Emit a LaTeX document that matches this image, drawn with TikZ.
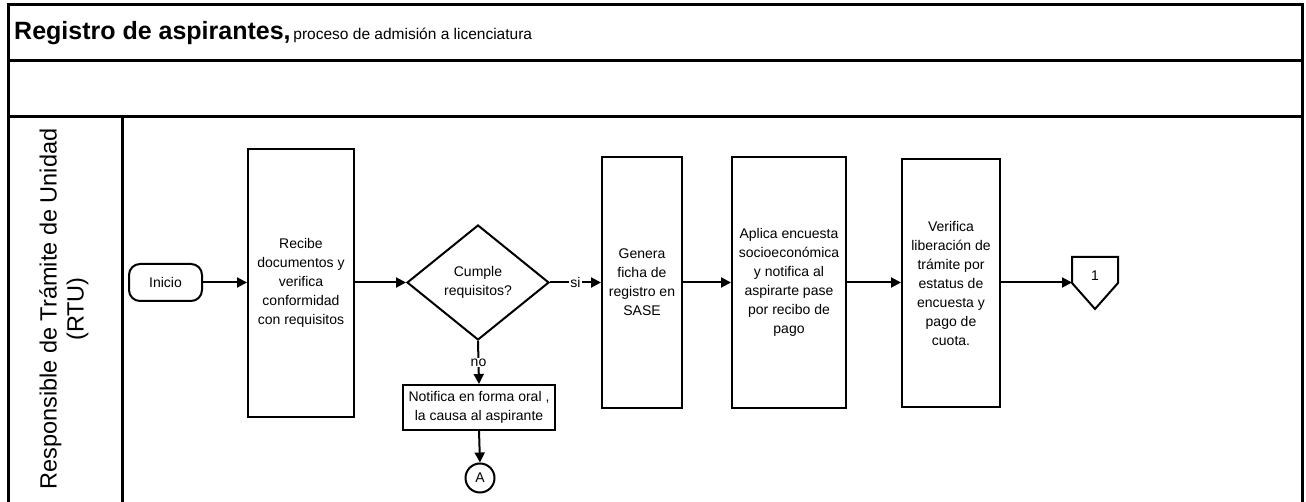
\documentclass[tikz,border=0pt]{standalone}
\usepackage{fontspec}
\setmainfont{Liberation Sans}
\usetikzlibrary{arrows.meta,shapes.geometric}
\begin{document}
\begin{tikzpicture}[x=1pt,y=-1pt,
  frame/.style={line width=3pt},
  boxtext/.style={font=\fontsize{14}{19}\selectfont, align=center},
  procbox/.style={draw, line width=2pt, inner sep=0pt, boxtext},
  arr/.style={line width=2pt, -{Triangle[length=10pt,width=10pt]}},
  plain/.style={line width=2pt},
  lbl/.style={fill=white, inner sep=1pt, font=\fontsize{14}{16}\selectfont}
]
\useasboundingbox (0,0) rectangle (1306,502);
% frame
\draw[frame] (8,504) -- (8,5) -- (1302,5) -- (1302,504);
\draw[frame] (8,61) -- (1302,61);
\draw[frame] (8,117) -- (1302,117);
\draw[frame] (122,117) -- (122,504);
% title
\node[anchor=base west, inner sep=0pt] (title) at (14,40)
  {{\fontsize{25}{30}\selectfont\bfseries Registro de aspirantes,} {\fontsize{15.5}{18}\selectfont proceso de admisión a licenciatura}};
% lane label
\node[rotate=90, align=center, inner sep=0pt, font=\fontsize{23.5}{27}\selectfont] (lane) at (64,309)
  {Responsible de Trámite de Unidad\\(RTU)};
% nodes
\node[draw, line width=2pt, rounded corners=11pt, minimum width=73pt, minimum height=37pt, inner sep=0pt, boxtext] (inicio) at (165.5,282.5) {Inicio};
\node[procbox, minimum width=106pt, minimum height=268pt] (recibe) at (301,283)
  {Recibe\\documentos y\\verifica\\conformidad\\con requisitos};
\node[draw, diamond, line width=2pt, inner sep=0pt, minimum width=142pt, minimum height=115pt, boxtext] (cumple) at (478,282.5)
  {Cumple\\requisitos?};
\node[procbox, minimum width=80pt, minimum height=251pt] (genera) at (642,282.5)
  {Genera\\ficha de\\registro en\\SASE};
\node[procbox, minimum width=114pt, minimum height=251pt] (aplica) at (789,282.5)
  {Aplica encuesta\\socioeconómica\\y notifica al\\aspirarte pase\\por recibo de\\pago};
\node[procbox, minimum width=98pt, minimum height=248pt] (verifica) at (951,283)
  {Verifica\\liberación de\\trámite por\\estatus de\\encuesta y\\pago de\\cuota.};
\node[procbox, minimum width=152pt, minimum height=45pt] (notifica) at (479,407.5)
  {Notifica en forma oral ,\\la causa al aspirante};
\node[draw, circle, line width=2pt, minimum size=29pt, inner sep=0pt, boxtext] (A) at (480,478) {A};
% off-page connector 1
\draw[plain, line join=miter] (1072,257) -- (1118,257) -- (1118,283) -- (1095,309) -- (1072,283) -- cycle;
\node[boxtext] (one) at (1095,276) {1};
\coordinate (c1in) at (1072,282.5);
% connectors
\draw[arr] (inicio.east) -- (recibe.west |- inicio.east);
\draw[arr] (recibe.east |- cumple.west) -- (cumple.west);
\draw[arr] (cumple.east) -- node[lbl] {si} (genera.west |- cumple.east);
\draw[arr] (genera.east) -- (aplica.west);
\draw[arr] (aplica.east) -- (verifica.west |- aplica.east);
\draw[arr] (verifica.east |- c1in) -- (c1in);
\draw[arr] (cumple.south) -- node[lbl, pos=0.5] {no} (notifica.north);
\draw[arr] (notifica.south) -- (A.north);
\end{tikzpicture}
\end{document}
